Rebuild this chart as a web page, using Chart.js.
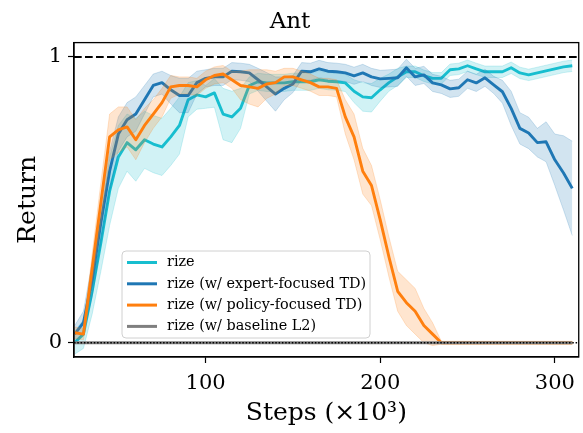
<!DOCTYPE html>
<html>
<head>
<meta charset="utf-8">
<script src="https://cdn.jsdelivr.net/npm/chart.js@4.4.1/dist/chart.umd.min.js"></script>
<style>
  body { margin: 0; background: #fff; }
  #wrap { width: 583px; height: 433px; }
</style>
</head>
<body>
<div id="wrap"><canvas id="antChart"></canvas></div>
<script>
// steps (x10^3)
const steps = [25, 30, 35, 40, 45, 50, 55, 60, 65, 70, 75, 80, 85, 90, 95, 100, 105, 110, 115, 120,
  125, 130, 135, 140, 145, 150, 155, 160, 165, 170, 175, 180, 185, 190, 195, 200, 205, 210, 215, 220,
  225, 230, 235, 240, 245, 250, 255, 260, 265, 270, 275, 280, 285, 290, 295, 300, 305, 310];

// rize
const rizeMean = [0.00, 0.03, 0.18, 0.35, 0.53, 0.65, 0.70, 0.675, 0.71, 0.695, 0.685, 0.72, 0.76, 0.85, 0.867, 0.86, 0.874, 0.80, 0.79, 0.82,
  0.90, 0.913, 0.909, 0.909, 0.909, 0.913, 0.913, 0.913, 0.92, 0.915, 0.913, 0.909, 0.88, 0.86, 0.857, 0.885, 0.91, 0.93, 0.948, 0.948,
  0.934, 0.925, 0.925, 0.955, 0.958, 0.969, 0.958, 0.948, 0.948, 0.948, 0.962, 0.944, 0.937, 0.944, 0.951, 0.958, 0.965, 0.969];
const rizeSpread = [0.04, 0.05, 0.08, 0.10, 0.12, 0.11, 0.10, 0.11, 0.10, 0.10, 0.10, 0.10, 0.10, 0.06, 0.05, 0.04, 0.05, 0.09, 0.09, 0.07,
  0.03, 0.03, 0.03, 0.03, 0.03, 0.03, 0.03, 0.03, 0.03, 0.03, 0.03, 0.03, 0.04, 0.05, 0.05, 0.04, 0.03, 0.03, 0.02, 0.02,
  0.02, 0.02, 0.02, 0.02, 0.02, 0.02, 0.02, 0.02, 0.02, 0.02, 0.02, 0.02, 0.02, 0.02, 0.02, 0.02, 0.02, 0.02];

// rize (w/ expert-focused TD)
const expertMean = [0.03, 0.07, 0.22, 0.42, 0.60, 0.73, 0.78, 0.80, 0.85, 0.90, 0.91, 0.885, 0.865, 0.865, 0.91, 0.925, 0.93, 0.93, 0.95, 0.948,
  0.944, 0.92, 0.895, 0.87, 0.89, 0.905, 0.95, 0.948, 0.958, 0.95, 0.948, 0.944, 0.934, 0.944, 0.93, 0.923, 0.925, 0.927, 0.962, 0.93,
  0.937, 0.909, 0.902, 0.888, 0.892, 0.92, 0.909, 0.927, 0.902, 0.878, 0.82, 0.75, 0.734, 0.70, 0.703, 0.64, 0.594, 0.54];
const expertSpread = [0.03, 0.04, 0.06, 0.07, 0.07, 0.06, 0.06, 0.06, 0.05, 0.04, 0.04, 0.05, 0.06, 0.06, 0.04, 0.03, 0.03, 0.03, 0.03, 0.03,
  0.03, 0.04, 0.05, 0.06, 0.04, 0.03, 0.03, 0.03, 0.03, 0.03, 0.03, 0.03, 0.03, 0.03, 0.03, 0.03, 0.03, 0.03, 0.03, 0.03,
  0.03, 0.03, 0.03, 0.03, 0.03, 0.03, 0.03, 0.03, 0.03, 0.04, 0.06, 0.055, 0.055, 0.05, 0.07, 0.09, 0.13, 0.165];

// rize (w/ policy-focused TD)
const policyMean = [0.035, 0.03, 0.26, 0.49, 0.72, 0.745, 0.755, 0.71, 0.76, 0.80, 0.84, 0.895, 0.90, 0.90, 0.895, 0.92, 0.935, 0.94, 0.92, 0.90,
  0.895, 0.89, 0.905, 0.91, 0.93, 0.93, 0.92, 0.91, 0.895, 0.895, 0.89, 0.79, 0.72, 0.60, 0.55, 0.43, 0.30, 0.18, 0.14, 0.11,
  0.06, 0.03, 0.0, 0.0, 0.0, 0.0, 0.0, 0.0, 0.0, 0.0, 0.0, 0.0, 0.0, 0.0, 0.0, 0.0, 0.0, 0.0];
const policySpread = [0.02, 0.02, 0.05, 0.07, 0.08, 0.08, 0.07, 0.07, 0.06, 0.05, 0.05, 0.04, 0.03, 0.03, 0.03, 0.03, 0.03, 0.03, 0.03, 0.05,
  0.06, 0.065, 0.05, 0.04, 0.03, 0.03, 0.03, 0.03, 0.03, 0.03, 0.03, 0.06, 0.08, 0.08, 0.07, 0.07, 0.07, 0.07, 0.08, 0.08,
  0.06, 0.04, 0.005, 0.005, 0.005, 0.005, 0.005, 0.005, 0.005, 0.005, 0.005, 0.005, 0.005, 0.005, 0.005, 0.005, 0.005, 0.005];

// rize (w/ baseline L2)
const baselineMean = [0, 0, 0, 0, 0, 0, 0, 0, 0, 0, 0, 0, 0, 0, 0, 0, 0, 0, 0, 0,
  0, 0, 0, 0, 0, 0, 0, 0, 0, 0, 0, 0, 0, 0, 0, 0, 0, 0, 0, 0,
  0, 0, 0, 0, 0, 0, 0, 0, 0, 0, 0, 0, 0, 0, 0, 0, 0, 0];

const xTicks = [100, 200, 300];
const yTicks = [0, 1];

const series = [
  { label: "rize", mean: rizeMean, spread: rizeSpread, color: "#17becf", band: "rgba(23,190,207,0.2)" },
  { label: "rize (w/ expert-focused TD)", mean: expertMean, spread: expertSpread, color: "#1f77b4", band: "rgba(31,119,180,0.2)" },
  { label: "rize (w/ policy-focused TD)", mean: policyMean, spread: policySpread, color: "#ff7f0e", band: "rgba(255,127,14,0.2)" },
  { label: "rize (w/ baseline L2)", mean: baselineMean, spread: null, color: "#7f7f7f", band: null }
];

const pts = arr => steps.map((s, i) => ({ x: s, y: arr[i] }));

// datasets in drawing order (first = bottom)
const datasets = [];
series.forEach(s => {
  if (s.spread) {
    datasets.push({
      data: pts(s.mean.map((v, i) => v - s.spread[i])),
      borderColor: s.band, borderWidth: 1, pointRadius: 0, fill: false
    });
    datasets.push({
      data: pts(s.mean.map((v, i) => v + s.spread[i])),
      borderColor: s.band, borderWidth: 1, pointRadius: 0,
      fill: datasets.length - 1, backgroundColor: s.band
    });
  }
  datasets.push({
    label: s.label, data: pts(s.mean),
    borderColor: s.color, borderWidth: 2.9, pointRadius: 0,
    borderJoinStyle: "round", fill: false
  });
});
datasets.forEach((d, i) => { d.order = 100 - i; });

const serif = "'DejaVu Serif', serif";

// dashed line at 1, dotted at 0, full box frame
const refLines = {
  id: "refLines",
  afterDatasetsDraw(chart) {
    const { ctx, chartArea: a, scales: { y } } = chart;
    ctx.save();
    ctx.strokeStyle = "#000";
    ctx.lineWidth = 2;
    ctx.setLineDash([7.7, 3.3]);
    let py = y.getPixelForValue(1);
    ctx.beginPath(); ctx.moveTo(a.left, py); ctx.lineTo(a.right, py); ctx.stroke();
    ctx.lineWidth = 1.5;
    ctx.setLineDash([1.5, 1.8]);
    py = y.getPixelForValue(0);
    ctx.beginPath(); ctx.moveTo(a.left, py); ctx.lineTo(a.right, py); ctx.stroke();
    ctx.setLineDash([]);
    ctx.lineWidth = 1.3;
    ctx.strokeRect(a.left, a.top, a.right - a.left, a.bottom - a.top);
    ctx.restore();
  }
};

// legend box like matplotlib's
const boxLegend = {
  id: "boxLegend",
  afterDraw(chart) {
    const ctx = chart.ctx;
    const x0 = 122, y0 = 251, w = 248, h = 87, rowH = 21.3;
    ctx.save();
    ctx.beginPath();
    ctx.roundRect(x0, y0, w, h, 4);
    ctx.fillStyle = "rgba(255,255,255,0.8)";
    ctx.fill();
    ctx.strokeStyle = "#d0d0d0";
    ctx.lineWidth = 1;
    ctx.stroke();
    ctx.font = "14.4px " + serif;
    ctx.textBaseline = "middle";
    series.forEach((s, i) => {
      const cy = y0 + 11.5 + i * rowH;
      ctx.strokeStyle = s.color;
      ctx.lineWidth = 3;
      ctx.beginPath(); ctx.moveTo(127, cy); ctx.lineTo(157, cy); ctx.stroke();
      ctx.fillStyle = "#000";
      ctx.fillText(s.label, 167, cy);
    });
    ctx.restore();
  }
};

new Chart(document.getElementById("antChart"), {
  type: "line",
  data: { datasets },
  options: {
    responsive: true,
    maintainAspectRatio: false,
    animation: false,
    layout: { padding: { left: 0, right: 3, top: 0, bottom: 0 } },
    plugins: {
      legend: { display: false },
      tooltip: { enabled: false },
      title: {
        display: true, text: "Ant", color: "#000",
        font: { family: serif, size: 23, weight: "normal", lineHeight: 1.2 },
        padding: { top: 8, bottom: 7 }
      }
    },
    scales: {
      x: {
        type: "linear", min: 24.6, max: 313.7,
        afterBuildTicks: sc => { sc.ticks = xTicks.map(v => ({ value: v })); },
        afterFit: sc => { sc.height = 76; },
        ticks: { color: "#000", font: { family: serif, size: 21 }, padding: 8, maxRotation: 0 },
        grid: { drawOnChartArea: false, color: "#000", tickLength: 6, tickWidth: 1.2 },
        border: { display: true, color: "#000", width: 1.3 },
        title: {
          display: true, text: "Steps (×10³)", color: "#000",
          font: { family: serif, size: 25, lineHeight: 1.2 },
          padding: { top: 0, bottom: 5 }
        }
      },
      y: {
        min: -0.05, max: 1.05,
        afterBuildTicks: sc => { sc.ticks = yTicks.map(v => ({ value: v })); },
        afterFit: sc => { sc.width = 74; },
        ticks: { color: "#000", font: { family: serif, size: 21 }, padding: 6 },
        grid: { drawOnChartArea: false, color: "#000", tickLength: 6, tickWidth: 1.2 },
        border: { display: true, color: "#000", width: 1.3 },
        title: {
          display: true, text: "Return", color: "#000",
          font: { family: serif, size: 25, lineHeight: 1.2 },
          padding: { top: 13, bottom: 0 }
        }
      }
    }
  },
  plugins: [refLines, boxLegend]
});
</script>
</body>
</html>
